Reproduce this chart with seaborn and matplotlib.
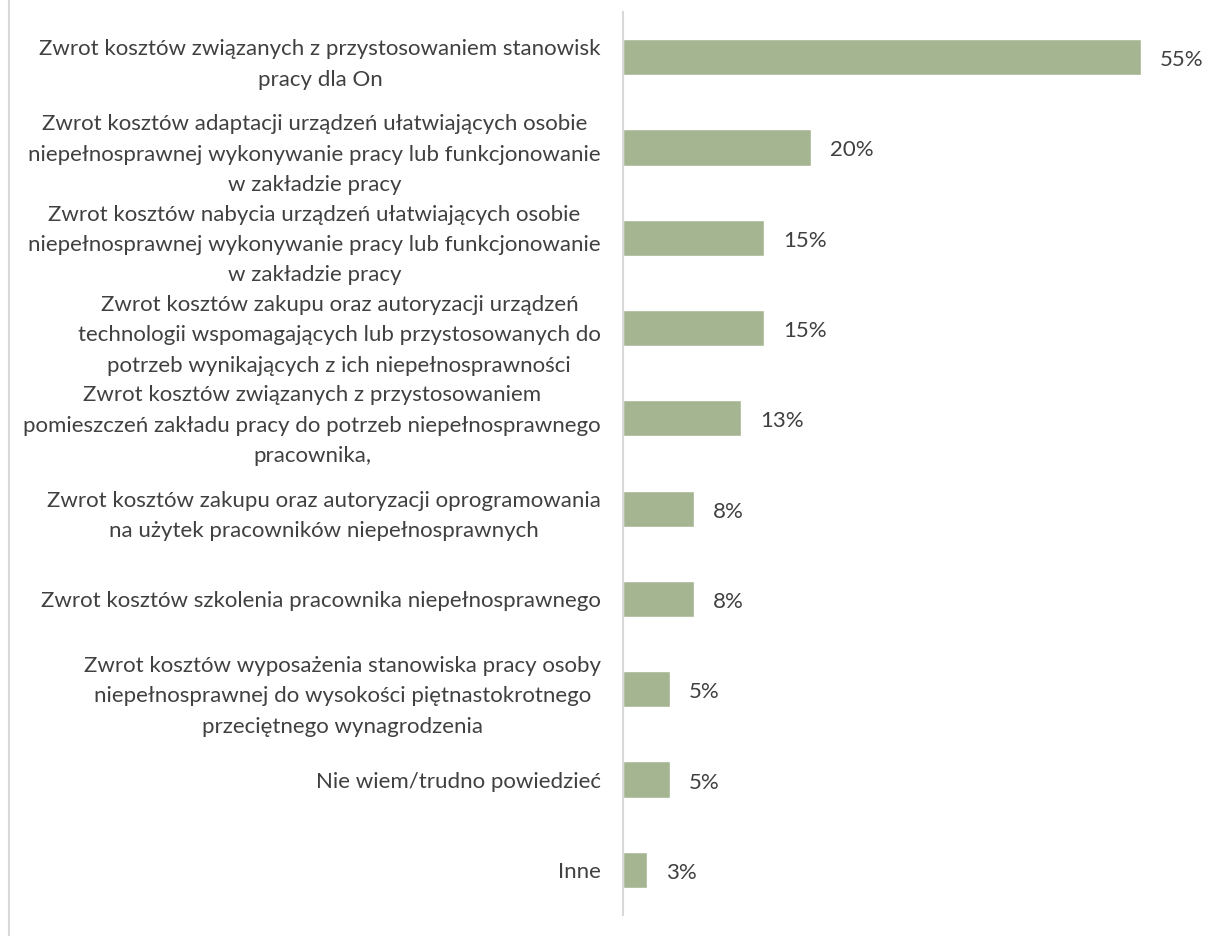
import matplotlib
matplotlib.use("Agg")
import matplotlib.pyplot as plt
import seaborn as sns
from matplotlib.lines import Line2D

# dane z wykresu
kategorie = [
    "Zwrot kosztów związanych z przystosowaniem stanowisk\npracy dla On",
    "Zwrot kosztów adaptacji urządzeń ułatwiających osobie\nniepełnosprawnej wykonywanie pracy lub funkcjonowanie\nw zakładzie pracy",
    "Zwrot kosztów nabycia urządzeń ułatwiających osobie\nniepełnosprawnej wykonywanie pracy lub funkcjonowanie\nw zakładzie pracy",
    "Zwrot kosztów zakupu oraz autoryzacji urządzeń\ntechnologii wspomagających lub przystosowanych do\npotrzeb wynikających z ich niepełnosprawności",
    "Zwrot kosztów związanych z przystosowaniem\npomieszczeń zakładu pracy do potrzeb niepełnosprawnego\npracownika,",
    "Zwrot kosztów zakupu oraz autoryzacji oprogramowania\nna użytek pracowników niepełnosprawnych",
    "Zwrot kosztów szkolenia pracownika niepełnosprawnego",
    "Zwrot kosztów wyposażenia stanowiska pracy osoby\nniepełnosprawnej do wysokości piętnastokrotnego\nprzeciętnego wynagrodzenia",
    "Nie wiem/trudno powiedzieć",
    "Inne",
]
wartosci = [55, 20, 15, 15, 12.5, 7.5, 7.5, 5, 5, 2.5]
etykiety = ["55%", "20%", "15%", "15%", "13%", "8%", "8%", "5%", "5%", "3%"]

KOLOR = "#A5B592"
TEKST = "#404040"
FS = 16

sns.set_style("white")
plt.rcParams['font.family'] = ['Lato', 'DejaVu Sans']

fig = plt.figure(figsize=(12.08, 9.36), dpi=100)
W, H = 1208, 936
x0, x1 = 623, 1188
y_top, y_bot = 12, 915
ax = fig.add_axes([x0 / W, 1 - y_bot / H, (x1 - x0) / W, (y_bot - y_top) / H])

sns.barplot(x=wartosci, y=kategorie, color=KOLOR, width=0.4, orient="h",
            saturation=1, ax=ax)

ax.set_xlim(0, 60)
ax.set_ylim(len(kategorie) - 0.5, -0.5)
ax.set_xticks([])
ax.set_xlabel("")
ax.set_ylabel("")

for s in ["top", "right", "bottom"]:
    ax.spines[s].set_visible(False)
ax.spines["left"].set_color("#d9d9d9")
ax.spines["left"].set_linewidth(1.5)

ax.tick_params(axis="y", length=0, pad=16, labelsize=FS, labelcolor=TEKST)
for t in ax.get_yticklabels():
    t.set_multialignment("center")
    t.set_linespacing(1.65)

for i, (v, e) in enumerate(zip(wartosci, etykiety)):
    ax.annotate(e, (v, i), xytext=(19, -3), textcoords="offset pixels",
                va="center", ha="left", fontsize=FS, color=TEKST)

# ramka wykresu po lewej stronie
fig.add_artist(Line2D([8.5 / W, 8.5 / W], [0, 1], color="#d9d9d9", lw=1.5))

fig.savefig("out.png", dpi=100)
